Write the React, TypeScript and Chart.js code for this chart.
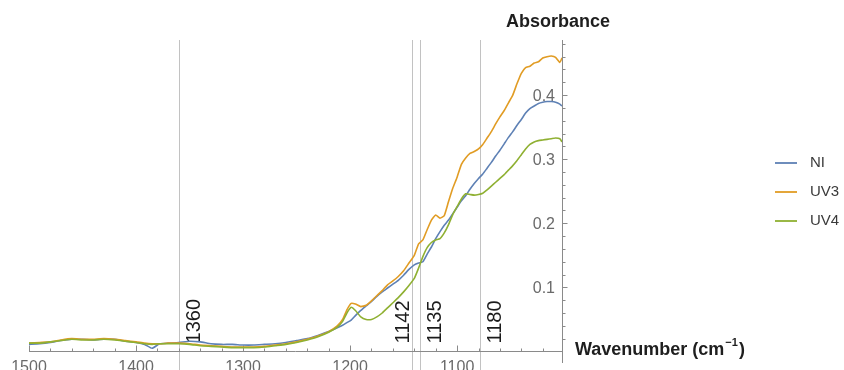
import React, { useEffect, useRef } from "react";
import { Chart, registerables } from "chart.js";

Chart.register(...registerables);

const wavenumbers = [
  1500, 1490, 1480, 1470, 1460, 1450, 1440, 1430, 1420, 1410, 1400, 1392, 1385, 1378, 1370, 1360,
  1350, 1340, 1330, 1320, 1310, 1300, 1290, 1280, 1270, 1260, 1250, 1240, 1230, 1220, 1212, 1207,
  1203, 1199, 1195, 1190, 1185, 1180, 1175, 1170, 1165, 1160, 1155, 1150, 1145, 1140, 1136, 1132,
  1128, 1124, 1120, 1116, 1112, 1108, 1104, 1100, 1096, 1092, 1088, 1084, 1080, 1076, 1072, 1068,
  1064, 1060, 1056, 1052, 1048, 1044, 1040, 1036, 1032, 1028, 1024, 1020, 1016, 1012, 1008, 1004, 1002,
];

const niValues = [
  0.011, 0.012, 0.014, 0.017, 0.019, 0.019, 0.018, 0.019, 0.019, 0.016, 0.014, 0.011, 0.005, 0.012, 0.013, 0.014,
  0.016, 0.015, 0.012, 0.011, 0.011, 0.01, 0.01, 0.011, 0.012, 0.014, 0.017, 0.02, 0.025, 0.031, 0.037, 0.041,
  0.045, 0.049, 0.056, 0.064, 0.071, 0.078, 0.086, 0.093, 0.099, 0.105, 0.111, 0.119, 0.128, 0.135, 0.138, 0.14,
  0.152, 0.163, 0.176, 0.187, 0.197, 0.205, 0.215, 0.225, 0.235, 0.243, 0.253, 0.262, 0.27, 0.277, 0.286, 0.295,
  0.305, 0.314, 0.324, 0.334, 0.343, 0.353, 0.362, 0.372, 0.379, 0.383, 0.387, 0.389, 0.39, 0.39, 0.389, 0.386, 0.383,
];

const uv3Values = [
  0.013, 0.014, 0.015, 0.018, 0.02, 0.019, 0.019, 0.02, 0.019, 0.017, 0.015, 0.013, 0.012, 0.012, 0.013, 0.013,
  0.012, 0.01, 0.009, 0.008, 0.007, 0.007, 0.007, 0.008, 0.01, 0.012, 0.015, 0.019, 0.024, 0.031, 0.04, 0.05,
  0.065, 0.075, 0.074, 0.07, 0.072, 0.079, 0.087, 0.095, 0.104, 0.11, 0.117, 0.126, 0.138, 0.15, 0.168, 0.174,
  0.19, 0.205, 0.213, 0.208, 0.212, 0.234, 0.255, 0.272, 0.292, 0.302, 0.309, 0.312, 0.316, 0.323, 0.333, 0.343,
  0.355, 0.366, 0.376, 0.388, 0.4, 0.418, 0.434, 0.443, 0.445, 0.45, 0.452, 0.458, 0.46, 0.461, 0.459, 0.451, 0.458,
];

const uv4Values = [
  0.013, 0.013, 0.015, 0.017, 0.019, 0.018, 0.018, 0.019, 0.018, 0.016, 0.014, 0.012, 0.011, 0.012, 0.012, 0.012,
  0.011, 0.009, 0.008, 0.007, 0.006, 0.006, 0.006, 0.007, 0.009, 0.011, 0.014, 0.018, 0.023, 0.03, 0.038, 0.047,
  0.06, 0.069, 0.064, 0.054, 0.05, 0.05, 0.054, 0.06, 0.068, 0.076, 0.084, 0.093, 0.103, 0.114, 0.13, 0.148,
  0.162, 0.17, 0.174, 0.176, 0.185, 0.198, 0.214, 0.226, 0.238, 0.246, 0.245, 0.244, 0.245, 0.247, 0.252, 0.258,
  0.264, 0.27, 0.276, 0.283, 0.29, 0.298, 0.307, 0.316, 0.323, 0.327, 0.329, 0.33, 0.331, 0.332, 0.333, 0.332, 0.327,
];

const seriesNames = ["NI", "UV3", "UV4"];
const seriesValues = [niValues, uv3Values, uv4Values];
const seriesColors = ["#5e81b5", "#e19c24", "#8fb032"];

const xTickValues = [1500, 1400, 1300, 1200, 1100];
const yTickValues = [0.1, 0.2, 0.3, 0.4];
const xTitle = "Wavenumber (cm";
const xTitleSup = "\u22121";
const yTitle = "Absorbance";

const markerPositions = [1360, 1142, 1135, 1079];
const markerLabels = ["1360", "1142", "1135", "1180"];

const FONT = '"Liberation Sans", Arial, Helvetica, sans-serif';
const markerLabelOnLeft = [false, true, false, false];

const decorPlugin = {
  id: "mmaDecor",
  beforeDatasetsDraw(chart: any) {
    const { ctx, chartArea, scales } = chart;
    const x = scales.x;
    const y = scales.y;
    const y0 = y.getPixelForValue(0);
    ctx.save();

    // marker lines
    ctx.strokeStyle = "#c2c2c2";
    ctx.lineWidth = 1;
    markerPositions.forEach((v) => {
      const px = Math.round(x.getPixelForValue(v)) + 0.5;
      ctx.beginPath();
      ctx.moveTo(px, chartArea.top);
      ctx.lineTo(px, chart.height);
      ctx.stroke();
    });

    // marker labels (rotated)
    ctx.font = `20px ${FONT}`;
    ctx.fillStyle = "#1c1c1c";
    ctx.textAlign = "left";
    ctx.textBaseline = "alphabetic";
    markerPositions.forEach((v, i) => {
      const px = x.getPixelForValue(v);
      const bx = markerLabelOnLeft[i] ? px - 3 : px + 21;
      ctx.save();
      ctx.translate(bx, y0 - 8);
      ctx.rotate(-Math.PI / 2);
      ctx.fillText(markerLabels[i], 0, 0);
      ctx.restore();
    });

    // axes
    const axisColor = "#8a8a8a";
    ctx.strokeStyle = axisColor;
    ctx.lineWidth = 1;
    const yLine = Math.round(y0) + 0.5;
    ctx.beginPath();
    ctx.moveTo(chartArea.left, yLine);
    ctx.lineTo(chartArea.right, yLine);
    ctx.stroke();
    for (let v = 1500; v > x.min + 1; v -= 20) {
      const px = Math.round(x.getPixelForValue(v)) + 0.5;
      const len = v % 100 === 0 ? 6 : 3;
      ctx.beginPath();
      ctx.moveTo(px, yLine);
      ctx.lineTo(px, yLine - len);
      ctx.stroke();
    }
    const xAxisX = Math.round(chartArea.right) + 0.5;
    ctx.beginPath();
    ctx.moveTo(xAxisX, chartArea.top);
    ctx.lineTo(xAxisX, chartArea.bottom);
    ctx.stroke();
    for (let k = 1; k <= 24; k++) {
      const v = k * 0.02;
      const py = Math.round(y.getPixelForValue(v)) + 0.5;
      const major = k % 5 === 0;
      ctx.beginPath();
      ctx.moveTo(xAxisX, py);
      ctx.lineTo(xAxisX + (major ? 5 : 3), py);
      ctx.stroke();
    }

    // tick labels
    ctx.font = `16px ${FONT}`;
    ctx.fillStyle = "#6a6a6a";
    ctx.textAlign = "center";
    ctx.textBaseline = "alphabetic";
    xTickValues.forEach((v) => {
      ctx.fillText(String(v), x.getPixelForValue(v), y0 + 21);
    });
    ctx.textAlign = "right";
    ctx.textBaseline = "middle";
    yTickValues.forEach((v) => {
      ctx.fillText(v.toFixed(1), chartArea.right - 7, y.getPixelForValue(v) + 1);
    });

    // axis titles
    ctx.fillStyle = "#1e1e1e";
    ctx.font = `bold 18px ${FONT}`;
    ctx.textAlign = "center";
    ctx.textBaseline = "middle";
    ctx.fillText(yTitle, chartArea.right - 4, 22);

    ctx.textAlign = "left";
    let tx = chartArea.right + 13;
    const ty = y0 - 1;
    ctx.fillText(xTitle, tx, ty);
    tx += ctx.measureText(xTitle).width + 1;
    ctx.font = `bold 11px ${FONT}`;
    ctx.fillText(xTitleSup, tx, ty - 7);
    tx += ctx.measureText(xTitleSup).width + 1;
    ctx.font = `bold 18px ${FONT}`;
    ctx.fillText(")", tx, ty);

    ctx.restore();
  },
  afterDatasetsDraw(chart: any) {
    const { ctx } = chart;
    ctx.save();
    ctx.font = `15px ${FONT}`;
    ctx.textAlign = "left";
    ctx.textBaseline = "middle";
    seriesNames.forEach((name, i) => {
      const ly = 163 + i * 29;
      ctx.strokeStyle = seriesColors[i];
      ctx.lineWidth = 1.8;
      ctx.beginPath();
      ctx.moveTo(775, ly);
      ctx.lineTo(797, ly);
      ctx.stroke();
      ctx.fillStyle = "#3a3a3a";
      ctx.fillText(name, 810, ly);
    });
    ctx.restore();
  },
};

export default function App() {
  const canvasRef = useRef<HTMLCanvasElement | null>(null);

  useEffect(() => {
    if (!canvasRef.current) return;
    const datasets = seriesNames.map((name, i) => ({
      label: name,
      data: wavenumbers.map((w, j) => ({ x: w, y: seriesValues[i][j] })),
      borderColor: seriesColors[i],
      borderWidth: 1.6,
      pointRadius: 0,
      tension: 0.15,
      fill: false,
      order: 2 - i,
    }));
    const chart = new Chart(canvasRef.current, {
      type: "line",
      data: { datasets },
      options: {
        animation: false,
        responsive: false,
        devicePixelRatio: 1,
        layout: { padding: { left: 29, right: 282, top: 40, bottom: 7 } },
        scales: {
          x: { type: "linear", reverse: true, min: 1002, max: 1500, display: false },
          y: { type: "linear", min: -0.018, max: 0.486, display: false },
        },
        plugins: {
          legend: { display: false },
          tooltip: { enabled: false },
        },
      },
      plugins: [decorPlugin],
    });
    return () => chart.destroy();
  }, []);

  return (
    <div style={{ position: "fixed", left: 0, top: 0, width: 844, height: 370, background: "#fff" }}>
      <canvas ref={canvasRef} width={844} height={370} style={{ display: "block" }} />
    </div>
  );
}
